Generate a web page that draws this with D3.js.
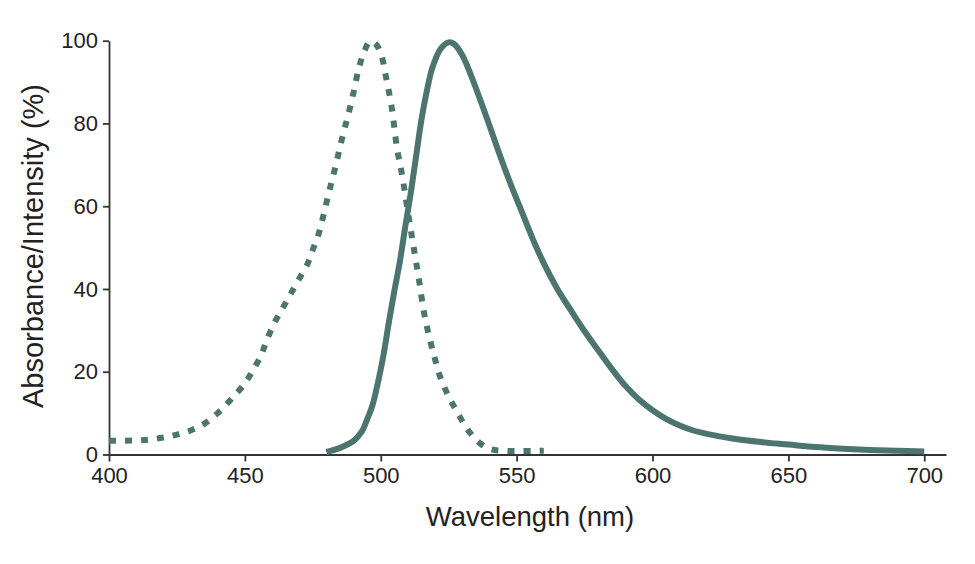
<!DOCTYPE html>
<html>
<head>
<meta charset="utf-8">
<script src="https://cdn.jsdelivr.net/npm/d3@7"></script>
<style>
  body { margin: 0; background: #fff; }
  svg text { font-family: "Liberation Sans", Arial, Helvetica, sans-serif; fill: #222; }
</style>
</head>
<body>
<div id="chart"></div>
<script>
// absorbance spectrum (dashed)
const absWavelength = [400, 410, 415, 420, 425, 430, 435, 440, 445, 450, 453, 456, 458, 461, 464, 467, 470, 473, 475, 477, 479, 481, 483, 486, 488, 490, 492, 494, 496, 498, 500, 502, 504, 506, 508, 510, 512, 514, 516, 518, 520, 522, 525, 528, 532, 536, 540, 545, 560];
const absValue = [3.3, 3.4, 3.6, 4.1, 4.8, 5.8, 7.4, 10, 13.4, 17.2, 20.4, 24, 27.5, 32, 35.5, 39, 42.5, 46, 49.5, 53, 58, 63.5, 68.7, 77, 82, 87.5, 93.5, 97.5, 99.8, 99.3, 97, 91, 84, 74, 67, 58.5, 50.5, 42.5, 34, 28, 23, 18.5, 14, 10.4, 6, 3, 1.4, 0.9, 0.9];

// emission spectrum (solid)
const emWavelength = [480, 485, 490, 493, 495, 497, 499, 501, 503, 505, 507, 509, 511, 513, 515, 517, 519, 522, 525, 527, 530, 533, 537, 540, 544, 548, 552, 556, 560, 565, 570, 575, 580, 585, 590, 595, 600, 605, 610, 615, 620, 630, 640, 650, 660, 670, 680, 690, 700];
const emValue = [0.6, 1.6, 3.3, 5.5, 8.5, 12, 17.5, 24, 32, 39.5, 46.5, 55, 63, 72, 81, 88, 93.5, 98, 99.6, 99.2, 96.5, 92, 85, 79.5, 72, 65, 58.5, 52, 46.2, 40, 34.8, 29.8, 25.2, 20.7, 16.6, 13.3, 10.7, 8.6, 7, 5.8, 5, 3.8, 3, 2.4, 1.8, 1.4, 1.1, 0.9, 0.7];

const xTicks = [400, 450, 500, 550, 600, 650, 700];
const yTicks = [0, 20, 40, 60, 80, 100];

const width = 975, height = 564;
const lineColor = "#4d7570";

const svg = d3.select("#chart")
  .append("svg")
  .attr("width", width)
  .attr("height", height);

// x runs a bit past 700 so the axis line overhangs the last tick
const x = d3.scaleLinear()
  .domain([400, 708])
  .range([109, 946]);

const y = d3.scaleLinear()
  .domain([0, 100])
  .range([454.5, 40.7]);

// X axis
const xAxis = svg.append("g")
  .attr("transform", `translate(0, ${y(0)})`)
  .call(d3.axisBottom(x).tickValues(xTicks).tickSize(7).tickSizeOuter(0).tickPadding(6));

// Y axis
const yAxis = svg.append("g")
  .attr("transform", `translate(${x(400)}, 0)`)
  .call(d3.axisLeft(y).tickValues(yTicks).tickSize(6).tickSizeOuter(0).tickPadding(5));

[xAxis, yAxis].forEach(function(ax) {
  ax.select(".domain").attr("stroke", "#333").attr("stroke-width", 1.8);
  ax.selectAll(".tick line").attr("stroke", "#333").attr("stroke-width", 1.8);
  ax.selectAll(".tick text")
    .style("font-size", "22px")
    .style("font-family", "'Liberation Sans', Arial, sans-serif")
    .attr("fill", "#222");
});

// axis titles
svg.append("text")
  .attr("x", 530)
  .attr("y", 526)
  .style("text-anchor", "middle")
  .style("font-size", "27.5px")
  .text("Wavelength (nm)");

svg.append("text")
  .attr("transform", "rotate(-90)")
  .attr("x", -246)
  .attr("y", 43)
  .style("text-anchor", "middle")
  .style("font-size", "29px")
  .text("Absorbance/Intensity (%)");

const line = d3.line()
  .x(function(d) { return x(d[0]); })
  .y(function(d) { return y(d[1]); })
  .curve(d3.curveCatmullRom.alpha(0.5));

// dashed absorbance curve
svg.append("path")
  .datum(d3.zip(absWavelength, absValue))
  .attr("fill", "none")
  .attr("stroke", lineColor)
  .attr("stroke-width", 6)
  .attr("stroke-dasharray", "7,9")
  .attr("d", line);

// solid emission curve
svg.append("path")
  .datum(d3.zip(emWavelength, emValue))
  .attr("fill", "none")
  .attr("stroke", lineColor)
  .attr("stroke-width", 6)
  .attr("stroke-linejoin", "round")
  .attr("d", line);
</script>
</body>
</html>
